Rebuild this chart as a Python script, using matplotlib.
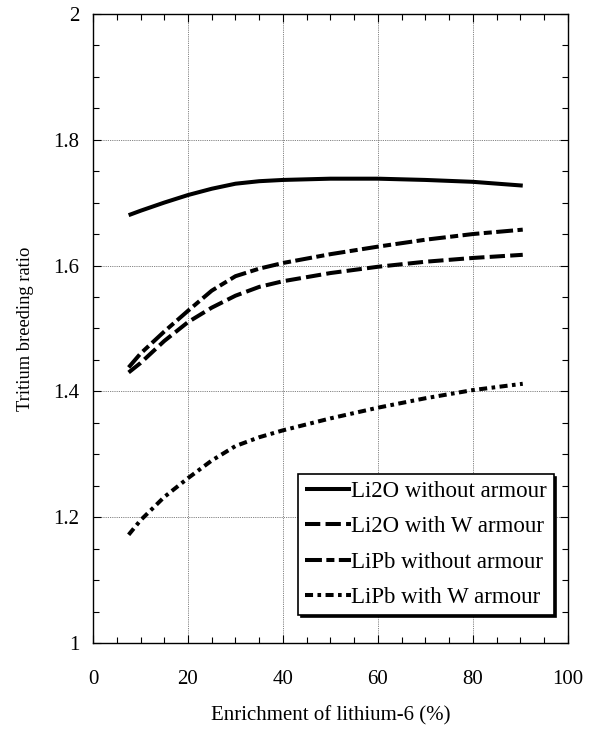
import matplotlib
matplotlib.use("Agg")
import matplotlib.pyplot as plt
from matplotlib.ticker import MultipleLocator

enrichment = [7.5, 10, 15, 20, 25, 30, 35, 40, 50, 60, 70, 80, 90.5]
li2o_no_armour = [1.680, 1.687, 1.700, 1.712, 1.722, 1.730, 1.734, 1.736, 1.738, 1.738, 1.736, 1.733, 1.727]
li2o_w_armour = [1.430, 1.445, 1.480, 1.510, 1.533, 1.552, 1.566, 1.575, 1.588, 1.598, 1.606, 1.612, 1.617]
lipb_no_armour = [1.438, 1.460, 1.495, 1.528, 1.560, 1.583, 1.595, 1.604, 1.618, 1.630, 1.641, 1.650, 1.657]
lipb_w_armour = [1.172, 1.195, 1.232, 1.262, 1.290, 1.313, 1.327, 1.338, 1.357, 1.374, 1.389, 1.402, 1.412]
labels = ["Li2O without armour", "Li2O with W armour", "LiPb without armour", "LiPb with W armour"]

plt.rcParams['font.family'] = ['Liberation Serif', 'DejaVu Serif']

fig = plt.figure(figsize=(5.94, 7.29), dpi=100)
ax = fig.add_axes([0.1566, 0.118, 0.7994, 0.863])

lw = 2.9
ax.plot(enrichment, li2o_no_armour, color='black', lw=lw, solid_capstyle='butt', label=labels[0])
ax.plot(enrichment, li2o_w_armour, color='black', lw=lw, dashes=(3.8, 1.3), label=labels[1])
ax.plot(enrichment, lipb_no_armour, color='black', lw=lw, dashes=(4.2, 1.1, 2, 1.1), label=labels[2])
ax.plot(enrichment, lipb_w_armour, color='black', lw=lw, dashes=(2, 1.1, 0.9, 1.1), label=labels[3])

ax.set_xlim(0, 100)
ax.set_ylim(1, 2)
ax.xaxis.set_major_locator(MultipleLocator(20))
ax.xaxis.set_minor_locator(MultipleLocator(5))
ax.yaxis.set_major_locator(MultipleLocator(0.2))
ax.yaxis.set_minor_locator(MultipleLocator(0.05))
ax.set_yticks([1, 1.2, 1.4, 1.6, 1.8, 2])
ax.set_yticklabels(['1', '1.2', '1.4', '1.6', '1.8', '2'])
ax.tick_params(which='both', direction='in', top=True, right=True, labelsize=15)
ax.tick_params(which='major', length=6, width=0.8)
ax.tick_params(which='minor', length=4, width=0.8)
ax.tick_params(axis='y', pad=10)
ax.tick_params(axis='x', pad=19.5)
ax.grid(True, which='major', color='0.35', linestyle=(0, (1, 1.2)), lw=0.6)
for s in ax.spines.values():
    s.set_linewidth(1.0)

ax.set_xlabel('Enrichment of lithium-6 (%)', fontsize=15, labelpad=12)
ax.set_ylabel('Tritium breeding ratio', fontsize=13.3, labelpad=14)

leg = ax.legend(loc='lower right', bbox_to_anchor=(0.97, 0.045), fontsize=16.5,
                handlelength=2.0, handletextpad=0.0, labelspacing=0.62,
                borderpad=0.3, borderaxespad=0, fancybox=False,
                shadow={'color': 'black', 'alpha': 1},
                framealpha=1, edgecolor='black')
leg.get_frame().set_linewidth(1.2)

fig.savefig('out.png', dpi=100)
